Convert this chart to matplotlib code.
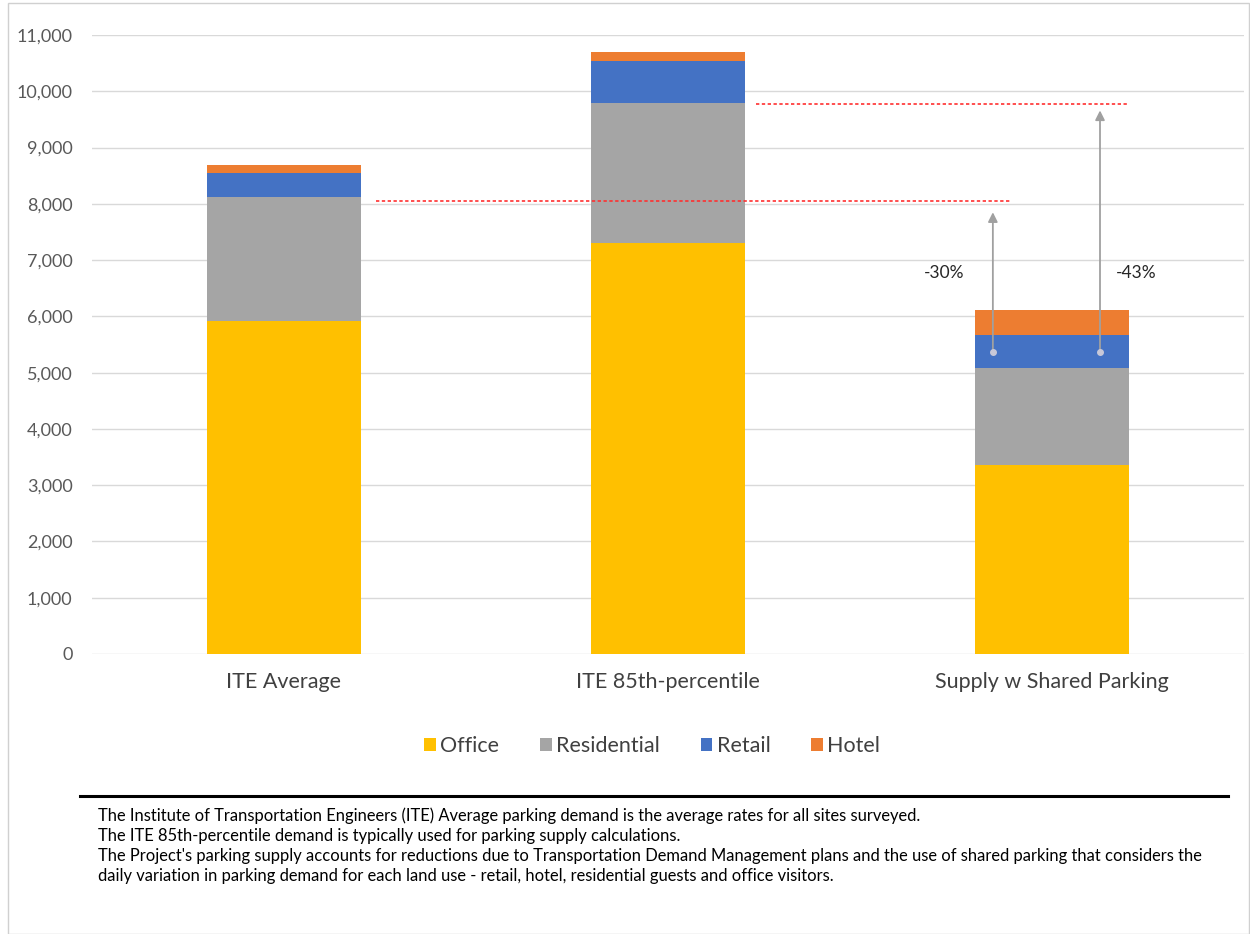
import matplotlib
matplotlib.use('Agg')
import matplotlib.pyplot as plt
from matplotlib.patches import Rectangle
import numpy as np

plt.rcParams['font.family'] = ['Lato', 'DejaVu Sans']

categories = ['ITE Average', 'ITE 85th-percentile', 'Supply w Shared Parking']
office = [5920, 7300, 3360]
residential = [2200, 2500, 1720]
retail = [420, 730, 590]
hotel = [150, 170, 440]

series = [('Office', office, '#FFC000'),
          ('Residential', residential, '#A5A5A5'),
          ('Retail', retail, '#4472C4'),
          ('Hotel', hotel, '#ED7D31')]

# reference lines and arrows (data coords)
ref_lines = [(8050, 0.24, 1.89), (9780, 1.23, 2.20)]
arrows = [(1.846, 5360, 7850, '-30%', 1.72), (2.125, 5360, 9660, '-43%', 2.22)]

notes = [
    "The Institute of Transportation Engineers (ITE) Average parking demand is the average rates for all sites surveyed.",
    "The ITE 85th-percentile demand is typically used for parking supply calculations.",
    "The Project's parking supply accounts for reductions due to Transportation Demand Management plans and the use of shared parking that considers the",
    "daily variation in parking demand for each land use - retail, hotel, residential guests and office visitors.",
]

fig = plt.figure(figsize=(12.5, 9.34), dpi=100)
ax = fig.add_axes([92 / 1250, 1 - 654 / 934, (1244 - 92) / 1250, (654 - 35) / 934])

x = np.arange(len(categories))
bottom = np.zeros(len(categories))
handles = []
for name, vals, color in series:
    b = ax.bar(x, vals, width=0.4, bottom=bottom, color=color, label=name, zorder=2)
    handles.append(b)
    bottom += np.array(vals)

ax.set_ylim(0, 11000)
ax.set_xlim(-0.5, 2.5)
ax.set_yticks(np.arange(0, 11001, 1000))
ax.set_yticklabels(['{:,}'.format(v) for v in range(0, 11001, 1000)])
ax.set_xticks(x)
ax.set_xticklabels(categories)
ax.tick_params(axis='y', length=0, pad=14, labelsize=13, labelcolor='#595959')
ax.tick_params(axis='x', length=0, pad=13, labelsize=15.5, labelcolor='#404040')
ax.grid(axis='y', color='#d9d9d9', linewidth=1, zorder=0)
for s in ax.spines.values():
    s.set_visible(False)

for yv, x0, x1 in ref_lines:
    ax.plot([x0, x1], [yv, yv], color='#ff3030', linestyle=(0, (2, 1.5)), linewidth=1.2, zorder=3)

for xa, y0, y1, lab, xl in arrows:
    ax.annotate('', xy=(xa, y1), xytext=(xa, y0),
                arrowprops=dict(arrowstyle='-|>', color='#a0a0a0', lw=1.3,
                                mutation_scale=14, shrinkA=0, shrinkB=0), zorder=4)
    ax.plot(xa, y0, 'o', color='#c8c8d8', markersize=4, zorder=4)
    ax.text(xl, 6770, lab, ha='center', va='center', fontsize=12.5, color='#262626')

fig.legend(handles=handles, loc='center', bbox_to_anchor=(652 / 1250, 1 - 746 / 934),
           ncol=4, frameon=False, fontsize=15.5, handlelength=0.55, handleheight=0.55,
           handletextpad=0.2, columnspacing=1.9, labelcolor='#404040')

fig.add_artist(plt.Line2D([80 / 1250, 1228 / 1250], [1 - 796 / 934, 1 - 796 / 934],
                          color='black', linewidth=2.2))
for i, t in enumerate(notes):
    fig.text(98 / 1250, 1 - (816 + i * 20) / 934, t, fontsize=11.9, color='black',
             ha='left', va='center')

fig.add_artist(Rectangle((8 / 1250, 0), 1 - 9 / 1250, 1 - 3 / 934, transform=fig.transFigure,
                         fill=False, edgecolor='#d0d0d0', linewidth=1))

fig.savefig('out.png', dpi=100)
